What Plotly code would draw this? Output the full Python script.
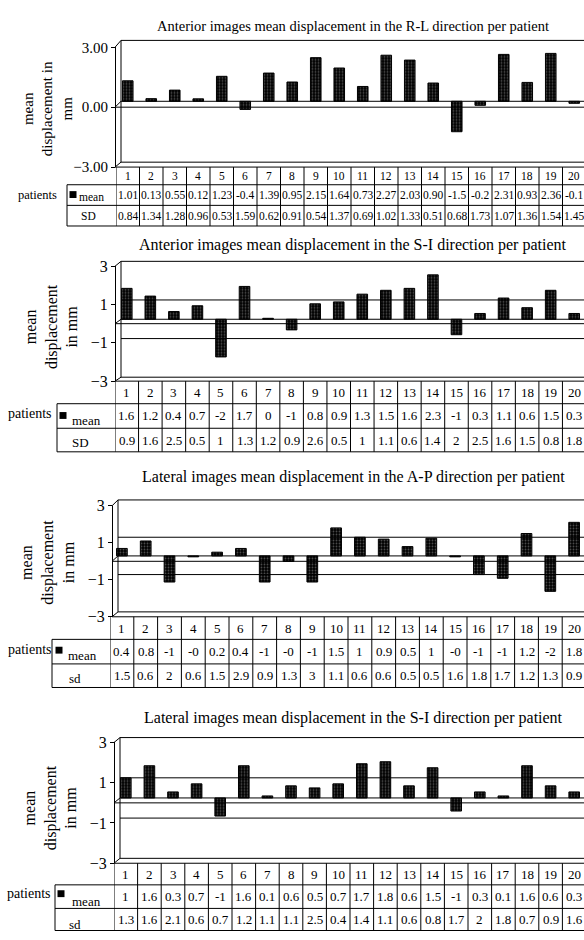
import plotly.graph_objects as go

W, H = 584, 940

patients = list(range(1, 21))

# Panel 1: Anterior images, R-L direction
ant_rl_mean = [1.01, 0.13, 0.55, 0.12, 1.23, -0.4, 1.39, 0.95, 2.15, 1.64,
               0.73, 2.27, 2.03, 0.90, -1.5, -0.2, 2.31, 0.93, 2.36, -0.1]
ant_rl_mean_txt = ["1.01", "0.13", "0.55", "0.12", "1.23", "-0.4", "1.39", "0.95", "2.15", "1.64",
                   "0.73", "2.27", "2.03", "0.90", "-1.5", "-0.2", "2.31", "0.93", "2.36", "-0.1"]
ant_rl_sd_txt = ["0.84", "1.34", "1.28", "0.96", "0.53", "1.59", "0.62", "0.91", "0.54", "1.37",
                 "0.69", "1.02", "1.33", "0.51", "0.68", "1.73", "1.07", "1.36", "1.54", "1.45"]

# Panel 2: Anterior images, S-I direction
ant_si_mean = [1.6, 1.2, 0.4, 0.7, -1.95, 1.7, 0.05, -0.55, 0.8, 0.9,
               1.3, 1.5, 1.6, 2.3, -0.8, 0.3, 1.1, 0.6, 1.5, 0.3]
ant_si_mean_txt = ["1.6", "1.2", "0.4", "0.7", "-2", "1.7", "0", "-1", "0.8", "0.9",
                   "1.3", "1.5", "1.6", "2.3", "-1", "0.3", "1.1", "0.6", "1.5", "0.3"]
ant_si_sd_txt = ["0.9", "1.6", "2.5", "0.5", "1", "1.3", "1.2", "0.9", "2.6", "0.5",
                 "1", "1.1", "0.6", "1.4", "2", "2.5", "1.6", "1.5", "0.8", "1.8"]

# Panel 3: Lateral images, A-P direction
lat_ap_mean = [0.4, 0.8, -1.4, -0.05, 0.2, 0.4, -1.4, -0.3, -1.4, 1.5,
               1.0, 0.9, 0.5, 0.95, -0.05, -1.0, -1.2, 1.2, -1.9, 1.8]
lat_ap_mean_txt = ["0.4", "0.8", "-1", "-0", "0.2", "0.4", "-1", "-0", "-1", "1.5",
                   "1", "0.9", "0.5", "1", "-0", "-1", "-1", "1.2", "-2", "1.8"]
lat_ap_sd_txt = ["1.5", "0.6", "2", "0.6", "1.5", "2.9", "0.9", "1.3", "3", "1.1",
                 "0.6", "0.6", "0.5", "0.5", "1.6", "1.8", "1.7", "1.2", "1.3", "0.9"]

# Panel 4: Lateral images, S-I direction
lat_si_mean = [1.0, 1.6, 0.3, 0.7, -0.9, 1.6, 0.1, 0.6, 0.5, 0.7,
               1.7, 1.8, 0.6, 1.5, -0.65, 0.3, 0.1, 1.6, 0.6, 0.3]
lat_si_mean_txt = ["1", "1.6", "0.3", "0.7", "-1", "1.6", "0.1", "0.6", "0.5", "0.7",
                   "1.7", "1.8", "0.6", "1.5", "-1", "0.3", "0.1", "1.6", "0.6", "0.3"]
lat_si_sd_txt = ["1.3", "1.6", "2.1", "0.6", "0.7", "1.2", "1.1", "1.1", "2.5", "0.4",
                 "1.4", "1.1", "0.6", "0.8", "1.7", "2", "1.8", "0.7", "0.9", "1.6"]

titles = [
    "Anterior images mean displacement in the R-L direction per patient",
    "Anterior images mean displacement in the S-I direction per patient",
    "Lateral images mean displacement in the A-P direction per patient",
    "Lateral images mean displacement in the S-I direction per patient",
]
ytitles = [
    "mean<br>displacement in<br>mm",
    "mean<br>displacement<br>in mm",
    "mean<br>displacement<br>in mm",
    "mean<br>displacement<br>in mm",
]
sd_labels = ["SD", "SD", "sd", "sd"]
tick_sets = [[-3, 0, 3], [-3, -1, 1, 3], [-3, -1, 1, 3], [-3, -1, 1, 3]]
tick_formats = [".2f", "", "", ""]
grid_sets = [[], [1, -1], [1, -1], [1, -1]]
means = [ant_rl_mean, ant_si_mean, lat_ap_mean, lat_si_mean]
mean_txts = [ant_rl_mean_txt, ant_si_mean_txt, lat_ap_mean_txt, lat_si_mean_txt]
sd_txts = [ant_rl_sd_txt, ant_si_sd_txt, lat_ap_sd_txt, lat_si_sd_txt]

# layout geometry (pixels)
geo = [
    dict(title_y=18, back=(33, 157), front=(40, 162), rows=(162, 180, 201, 222), col0=116, fx=115,
         lab_left=67, yt=(47, 103), pat=(37, 190), key=(73, 190), meanlab=(91, 192), sdlab=(88, 212),
         fs=dict(title=14.5, tick=15, ytitle=15, cell=11.5, lab=12.5)),
    dict(title_y=241, back=(258, 376), front=(263, 380), rows=(380, 403, 428, 452), col0=115, fx=115,
         lab_left=57, yt=(51, 325), pat=(30, 413), key=(63, 415), meanlab=(86, 420), sdlab=(80, 443),
         fs=dict(title=16, tick=16, ytitle=16, cell=13, lab=14)),
    dict(title_y=478, back=(501, 615), front=(507, 620), rows=(620, 643, 668, 692), col0=110, fx=112,
         lab_left=52, yt=(48, 565), pat=(30, 653), key=(59, 654), meanlab=(82, 659), sdlab=(75, 683),
         fs=dict(title=16, tick=16, ytitle=16, cell=13, lab=14)),
    dict(title_y=723, back=(743, 866), front=(748, 871), rows=(871, 893, 917, 939.5), col0=114, fx=114,
         lab_left=55, yt=(50, 815), pat=(29, 902), key=(61, 902), meanlab=(86, 910), sdlab=(75, 933),
         fs=dict(title=16, tick=16, ytitle=16, cell=13, lab=14)),
]

FONT = "Liberation Serif, Times New Roman, serif"
LINE = dict(color="black", width=1)


def X(px):
    return px / W


def Y(py):
    return 1 - py / H


fig = go.Figure()
shapes = []
annotations = []
layout_axes = {}

for k in range(1, 5):
    g = geo[k - 1]
    sfx = "" if k == 1 else str(k)
    xa, ya = "x" + sfx, "y" + sfx
    yf = "y" + str(k + 4)
    col0 = g["col0"]
    cw = (586 - col0) / 20.0
    bx = g["fx"] + 6
    fx = g["fx"]
    bt, bb = g["back"]
    ft, fb = g["front"]
    r0, r1, r2, r3 = g["rows"]
    fs = g["fs"]

    layout_axes["xaxis" + sfx] = dict(domain=[X(col0), 1], range=[0.5, 0.5 + (W - col0) / cw],
                                      visible=False, anchor=ya, fixedrange=True)
    layout_axes["yaxis" + sfx] = dict(domain=[Y(bb), Y(bt)], range=[-3, 3], visible=False,
                                      anchor=xa, fixedrange=True)
    layout_axes["yaxis" + str(k + 4)] = dict(
        domain=[Y(fb), Y(ft)], range=[-3, 3], anchor="free", position=X(fx),
        showline=True, linecolor="black", linewidth=1, ticks="outside", ticklen=4,
        tickcolor="black", tickwidth=1, tickvals=tick_sets[k - 1], tickformat=tick_formats[k - 1],
        showgrid=False, zeroline=False, fixedrange=True,
        tickfont=dict(family=FONT, size=fs["tick"], color="black"))

    fig.add_trace(go.Bar(
        x=patients, y=means[k - 1], xaxis=xa, yaxis=ya, width=0.45, showlegend=False,
        hoverinfo="skip",
        marker=dict(color="black", line=dict(color="black", width=1),
                    pattern=dict(shape=".", fgcolor="#9a9a9a", bgcolor="black", size=3, solidity=0.3))))
    fig.add_trace(go.Scatter(x=[None], y=[None], xaxis=xa, yaxis=yf, showlegend=False,
                             hoverinfo="skip", mode="markers"))

    def pline(x0, y0, x1, y1):
        shapes.append(dict(type="line", xref="paper", yref="paper",
                           x0=X(x0), y0=Y(y0), x1=X(x1), y1=Y(y1), line=LINE))

    # 3-D frame
    pline(bx, bt, W + 2, bt)
    pline(bx, bt, bx, bb)
    pline(bx, bb, W + 2, bb)
    pline(fx, ft, bx, bt)
    pline(fx, fb, bx, bb)
    pline(fx, fb, W + 2, fb)
    # floor at zero (back and front edge)
    shapes.append(dict(type="line", xref="paper", yref=ya, x0=X(bx), x1=1, y0=0, y1=0, line=LINE))
    shapes.append(dict(type="line", xref="paper", yref=yf, x0=X(fx), x1=1, y0=0, y1=0, line=LINE))
    pline(fx, (ft + fb) / 2, bx, (bt + bb) / 2)
    # back-wall gridlines
    for v in grid_sets[k - 1]:
        shapes.append(dict(type="line", xref="paper", yref=ya, x0=X(bx), x1=1, y0=v, y1=v, line=LINE))

    # data table grid
    for j in range(21):
        shapes.append(dict(type="line", xref=xa, yref="paper", x0=j + 0.5, x1=j + 0.5,
                           y0=Y(r0), y1=Y(r3), line=LINE))
    pline(g["lab_left"], r1, W + 2, r1)
    pline(g["lab_left"], r2, W + 2, r2)
    pline(g["lab_left"], r3, W + 2, r3)
    pline(g["lab_left"], r1, g["lab_left"], r3)
    # legend key
    kx, ky = g["key"]
    shapes.append(dict(type="rect", xref="paper", yref="paper", x0=X(kx - 3.5), x1=X(kx + 3.5),
                       y0=Y(ky + 3.5), y1=Y(ky - 3.5), fillcolor="black", line=dict(width=0)))

    def ann(text, x, y, size, xref="paper", **kw):
        annotations.append(dict(text=text, x=x, y=y, xref=xref, yref="paper", showarrow=False,
                                xanchor="center", yanchor="middle",
                                font=dict(family=FONT, size=size, color="black"), **kw))

    ann(titles[k - 1], X(353), Y(g["title_y"]), fs["title"])
    ann(ytitles[k - 1], X(g["yt"][0]), Y(g["yt"][1]), fs["ytitle"], textangle=-90)
    ann("patients", X(g["pat"][0]), Y(g["pat"][1]), fs["lab"])
    ann("mean", X(g["meanlab"][0]), Y(g["meanlab"][1]), fs["lab"] - 1)
    ann(sd_labels[k - 1], X(g["sdlab"][0]), Y(g["sdlab"][1]), fs["lab"] - 1)

    for i, p in enumerate(patients):
        ann(str(p), p, Y((r0 + r1) / 2), fs["cell"], xref=xa)
        ann(mean_txts[k - 1][i], p, Y((r1 + r2) / 2), fs["cell"], xref=xa)
        ann(sd_txts[k - 1][i], p, Y((r2 + r3) / 2), fs["cell"], xref=xa)

fig.update_layout(
    width=W, height=H, margin=dict(l=0, r=0, t=0, b=0),
    paper_bgcolor="white", plot_bgcolor="rgba(0,0,0,0)",
    showlegend=False, shapes=shapes, annotations=annotations,
    font=dict(family=FONT, color="black"),
    **layout_axes,
)

fig.write_html(
    "out.html",
    config={"displayModeBar": False},
    post_script="document.body.style.margin='0';document.body.style.overflow='hidden';",
)
